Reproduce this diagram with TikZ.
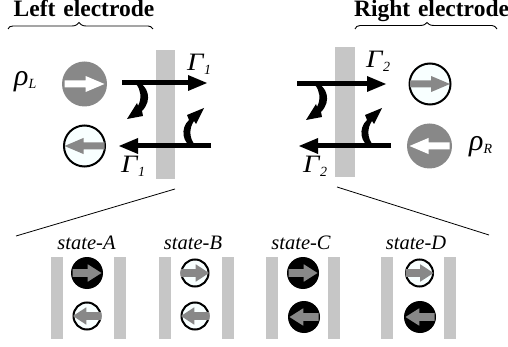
\documentclass[tikz,border=0pt]{standalone}
\usepackage{fontspec}
\setmainfont{Liberation Serif}
\definecolor{barg}{HTML}{C6C6C6}
\definecolor{ballg}{HTML}{888888}
\definecolor{pale}{HTML}{F8FFFF}
\newcommand{\fs}[1]{\fontsize{#1}{#1}\selectfont}
\newcommand{\Gam}[1]{{\fs{25}\itshape\scalebox{1.15}[1]{Γ}\kern0.5pt\raisebox{-4pt}{\fs{14}#1}}}
\newcommand{\Rho}[1]{{\fs{30}\itshape ρ\raisebox{-3pt}{\fs{14}#1}}}
\tikzset{
 x=1pt,y=-1pt,
 barbox/.style={fill=barg,draw=none},
 ballnode/.style={circle,inner sep=0pt,outer sep=0pt},
 darkball/.style={ballnode,fill=ballg,draw=none},
 lightball/.style={ballnode,fill=pale,draw=black,line width=2pt},
 blackball/.style={ballnode,fill=black,draw=none},
 title/.style={font=\fs{23.5}\bfseries,inner sep=0pt,anchor=base},
 statelabel/.style={font=\fs{20.5}\itshape,inner sep=0pt,anchor=base},
 sym/.style={inner sep=0pt,anchor=base west},
 flow/.style={line width=5pt},
 thinline/.style={line width=0.8pt},
 bracepath/.style={line width=0.9pt}
}
\newcommand{\spin}[5]{\fill[#5,shift={(#1)}]
 (-#3*#2,-#4) -- (#3*0.05*#2,-#4) -- (#3*0.05*#2,-#4*2.3) -- (#3*#2,0) -- (#3*0.05*#2,#4*2.3) -- (#3*0.05*#2,#4) -- (-#3*#2,#4) -- cycle;}
% crescent arrows turning away from the flows
\newcommand{\turndown}[1]{\fill[shift={(#1)}] (136,81) .. controls (148,85) and (153,100) .. (142,111) -- (143,116) -- (127,119) -- (137,103) -- (138,106) .. controls (142,98) and (141,90) .. (136,84) -- cycle;}
\newcommand{\turnup}[1]{\fill[shift={(#1)}] (194,148) .. controls (182,144) and (180,128) .. (189,120) -- (187,115) -- (204,108) -- (196,124) -- (194,121) .. controls (189,128) and (189,138) .. (195,145) -- cycle;}
\begin{document}
\begin{tikzpicture}
\useasboundingbox (0,0) rectangle (508,347);
\fill[white] (0,0) rectangle (508,347);
% titles and braces
\node[title] (tl) at (84,17) {Left\hspace{2pt} electrode};
\node[title] (tr) at (431.5,17) {Right\hspace{2pt} electrode};
\draw[bracepath] (8,29) .. controls (9,27) and (10,26) .. (13,26) -- (72,26) .. controls (76,26) and (78,24) .. (79,22.5) .. controls (80,24) and (82,26) .. (86,26) -- (148,26) .. controls (150,26) and (152,27) .. (153,29);
\draw[bracepath] (355,29) .. controls (356,27) and (357,25.5) .. (360,25.5) -- (420,25.5) .. controls (424,25.5) and (426,24) .. (427,22.5) .. controls (428,24) and (430,25.5) .. (434,25.5) -- (492,25.5) .. controls (494,25.5) and (496,27) .. (497,29);
% tunnel barriers
\fill[barbox] (156,50) rectangle (175,179);
\fill[barbox] (335,47) rectangle (355,177);
% zoom lines
\coordinate (zl1) at (175,189); \coordinate (zl2) at (16,236);
\coordinate (zr1) at (337,187); \coordinate (zr2) at (489,235);
\draw[thinline] (zl1) -- (zl2);
\draw[thinline] (zr1) -- (zr2);
% big balls
\node[darkball,minimum size=45pt] (bl1) at (84.5,84) {};
\spin{84.5,84}{20}{1}{3.5}{white}
\node[lightball,minimum size=41pt] (bl2) at (84.5,146) {};
\spin{84.5,146}{20}{-1}{3.5}{ballg}
\node[lightball,minimum size=41pt] (br1) at (430,84) {};
\spin{430,84}{20}{1}{3.5}{ballg}
\node[darkball,minimum size=45pt] (br2) at (429.5,146) {};
\spin{429.5,146}{20}{-1}{3.5}{white}
% left flows
\coordinate (a1) at (122,83); \coordinate (a1h) at (190,83);
\coordinate (a2) at (211,146); \coordinate (a2h) at (136,146);
\draw[flow] (a1) -- (a1h);
\fill (188,75) -- (207,83) -- (188,91) -- cycle;
\draw[flow] (a2) -- (a2h);
\fill (138,138) -- (119,146) -- (138,154) -- cycle;
\turndown{0,0}
\turnup{0,0}
% right flows
\draw[flow] (297,84) -- (370,84);
\fill (367,76) -- (386,84) -- (367,92) -- cycle;
\draw[flow] (391,146) -- (316,146);
\fill (318,138) -- (299,146) -- (318,154) -- cycle;
\turndown{179,1}
\turnup{178,0}
% symbols
\node[sym] (g1) at (187,71) {\Gam{1}};
\node[sym] (g2) at (121,173) {\Gam{1}};
\node[sym] (g3) at (366,68) {\Gam{2}};
\node[sym] (g4) at (303,173) {\Gam{2}};
\node[sym] (r1) at (14,86) {\Rho{L}};
\node[sym] (r2) at (469,151) {\Rho{R}};
% states
\node[statelabel] (sa) at (86.5,249.5) {state-A};
\node[statelabel] (sb) at (193,249.5) {state-B};
\node[statelabel] (sc) at (301,249.5) {state-C};
\node[statelabel] (sd) at (416,249.5) {state-D};
\foreach \x in {51,113.5,159,222,266,328,381,444}
  \fill[barbox] (\x,257) rectangle +(12,82);
\node[blackball,minimum size=32pt] (a) at (87,273) {};
\spin{87,273}{14.5}{1}{3.8}{ballg}
\node[lightball,minimum size=27pt] (a') at (87,316) {};
\spin{87,316}{14}{-1}{3.8}{ballg}
\node[lightball,minimum size=27pt] (b) at (195,273) {};
\spin{195,273}{14}{1}{3.8}{ballg}
\node[lightball,minimum size=27pt] (b') at (195,316) {};
\spin{195,316}{14}{-1}{3.8}{ballg}
\node[blackball,minimum size=32pt] (c) at (303,273) {};
\spin{303,273}{14.5}{1}{3.8}{ballg}
\node[blackball,minimum size=32pt] (c') at (304,317) {};
\spin{304,317}{14.5}{-1}{3.8}{ballg}
\node[lightball,minimum size=27pt] (d) at (419.5,273) {};
\spin{419.5,273}{14}{1}{3.8}{ballg}
\node[blackball,minimum size=32pt] (d') at (420,317) {};
\spin{420,317}{14.5}{-1}{3.8}{ballg}
\end{tikzpicture}
\end{document}
